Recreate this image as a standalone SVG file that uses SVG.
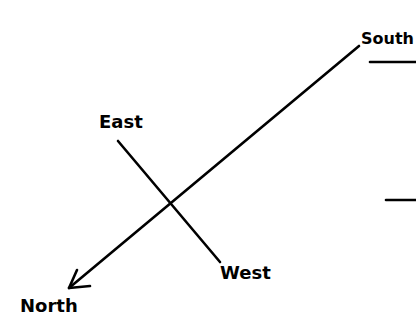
<svg xmlns="http://www.w3.org/2000/svg" width="416" height="323" viewBox="0 0 416 323">
<style>
.ln{stroke:#000;stroke-width:2.6;fill:none;stroke-linecap:round;stroke-linejoin:round}
.lb{font-family:"DejaVu Sans",sans-serif;font-weight:bold;font-size:18px;fill:#000}
</style>
<rect width="416" height="323" fill="#fff"/>
<g id="connectors">
<path class="ln" d="M359,46 L69,288"/>
<path class="ln" d="M77,270 L69,288 L90,286"/>
<path class="ln" d="M118,141 L220,262"/>
</g>
<g id="south"><text class="lb" x="361" y="44" style="font-size:16px">South</text><path class="ln" d="M370,62 L416,62"/></g>
<g id="east"><text class="lb" x="99" y="128">East</text></g>
<g id="west"><text class="lb" x="220" y="279">West</text></g>
<g id="north"><text class="lb" x="20" y="312">North</text></g>
<g id="mark"><path class="ln" d="M386,200 L416,200"/></g>
</svg>
